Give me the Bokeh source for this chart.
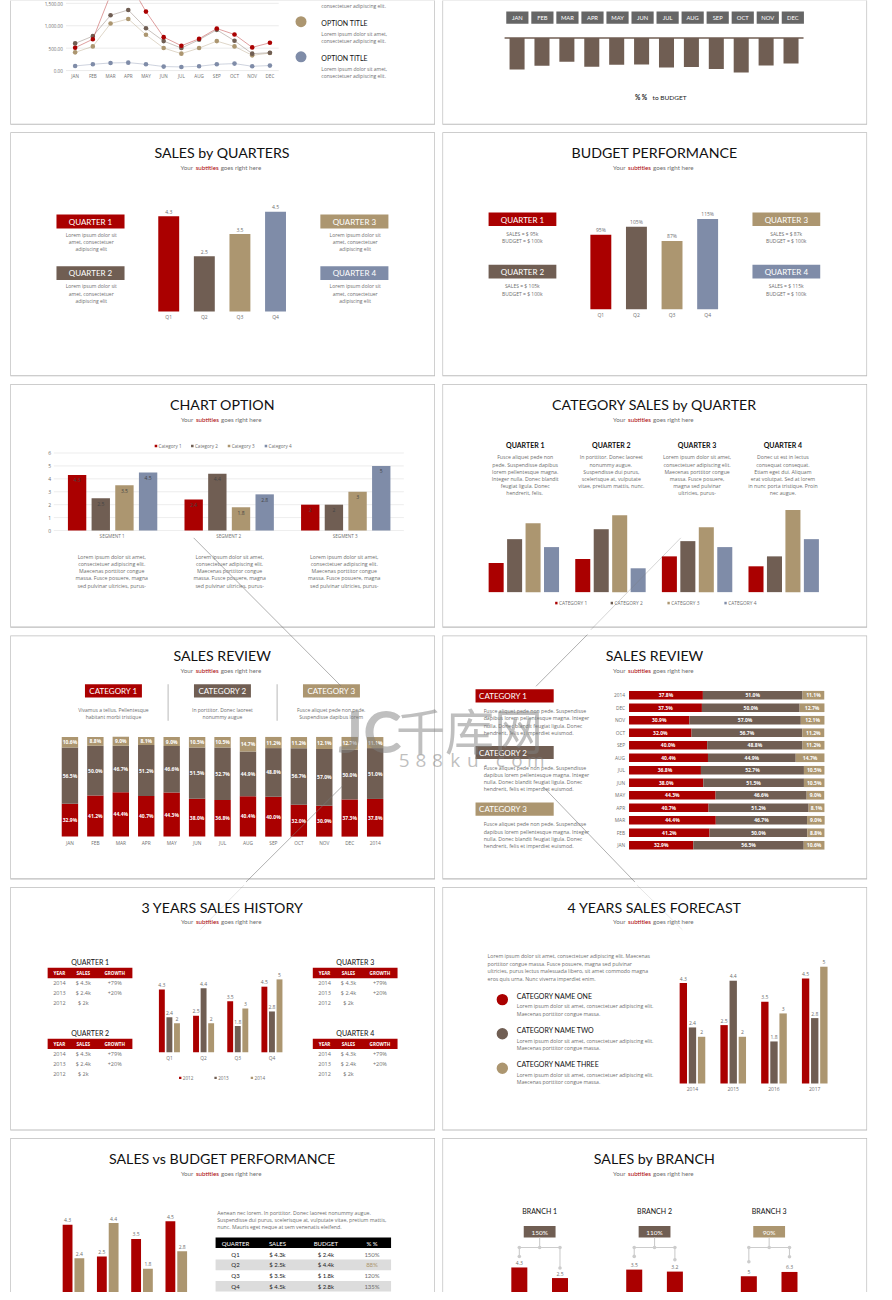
from bokeh.plotting import figure
from bokeh.models import Range1d
from bokeh.core.properties import value
from bokeh.embed import file_html
from bokeh.resources import INLINE

# ---------- data ----------
MONTHS = ["JAN","FEB","MAR","APR","MAY","JUN","JUL","AUG","SEP","OCT","NOV","DEC"]
line_red   = [510,700,1700,2000,1315,746,554,709,938,805,517,620]
line_brown = [606,768,1233,1352,945,657,502,687,908,665,377,399]
line_tan   = [406,539,1049,1152,798,502,377,502,657,539,340,391]
line_blue  = [103,140,170,177,140,89,81,96,140,155,96,111]
line_ticks = [0,500,1000,1500]
line_tick_labels = ["0.00","500.00","1,000.00","1,500.00"]
budget_pct = [95,84,72,87,81,80,89,88,94,104,83,77]
QS = ["Q1","Q2","Q3","Q4"]
sales_q = [4.3,2.5,3.5,4.5]
budget_q = [95,105,87,115]
budget_q_labels = ["95%","105%","87%","115%"]
seg_names = ["SEGMENT 1","SEGMENT 2","SEGMENT 3"]
seg_vals = [[4.3,2.4,2],[2.5,4.4,2],[3.5,1.8,3],[4.5,2.8,5]]
cat_q_vals = [[2.2,2.5,2.7,1.95],[4.0,4.75,3.85,2.7],[5.2,5.8,4.9,6.2],[3.4,1.8,3.4,4.0]]
stack_labels = MONTHS + ["2014"]
stack_a = [32.9,41.2,44.4,40.7,44.3,38.0,36.8,40.4,40.0,32.0,30.9,37.3,37.8]
stack_b = [56.5,50.0,46.7,51.2,46.6,51.5,52.7,44.9,48.8,56.7,57.0,50.0,51.0]
stack_c = [10.6,8.8,9.0,8.1,9.0,10.5,10.5,14.7,11.2,11.2,12.1,12.7,11.1]
hist_2012 = [4.3,2.5,3.5,4.5]
hist_2013 = [2.4,4.4,1.8,2.8]
hist_2014 = [2,2,3,5]
fc_years = ["2014","2015","2016","2017"]
hist_rows = [["2014","$ 4.3k","+79%"],["2013","$ 2.4k","+20%"],["2012","$ 2k",""]]
perf_rows = [["Q1","$ 4.3k","$ 2.4k","150%"],["Q2","$ 2.5k","$ 4.4k","88%"],
             ["Q3","$ 3.5k","$ 1.8k","120%"],["Q4","$ 4.5k","$ 2.8k","135%"]]
branch_vals = [[4.3,2.5],[3.5,3.2],[5,6.3]]
branch_pct = ["150%","110%","90%"]

RED, BROWN, TAN, BLUE = "#aa0000", "#705e53", "#ac9670", "#7f8ca8"
GRAY, DARK = "#6e6e6e", "#111111"
X0, X1, Y0, Y1 = 0, 892, 0, 1300
LAT, OPS = "Lato", "Open Sans"

p = figure(width=876, height=1292, x_range=Range1d(X0, X1), y_range=Range1d(Y1, Y0),
           x_axis_type=None, y_axis_type=None, toolbar_location=None,
           output_backend="svg", min_border=0, outline_line_color=None,
           background_fill_color="white", border_fill_color="white")
p.grid.visible = False

n = [0]
def xs(px0, ppu):
    n[0] += 1; name = f"x{n[0]}"
    p.extra_x_ranges[name] = Range1d((X0 - px0) / ppu, (X1 - px0) / ppu)
    return name
def ys(px0, ppu):
    n[0] += 1; name = f"y{n[0]}"
    p.extra_y_ranges[name] = Range1d((px0 - Y1) / ppu, (px0 - Y0) / ppu)
    return name

def T(x, y, s, size=5, color=GRAY, align="center", font=OPS, style="normal", alpha=1.0):
    p.text([x], [y], text=[s], text_font=value(font), text_font_size=f"{size}px", text_color=color,
           text_align=align, text_baseline="middle", text_font_style=style, text_alpha=alpha)
def R(x0, y0, x1, y1, c):
    p.quad(left=[x0], right=[x1], top=[y0], bottom=[y1], fill_color=c, line_color=None)
def lines(cx, y, step, rows, size=5, align="center", color=GRAY):
    for i, s in enumerate(rows):
        T(cx, y + i * step, s, size, color, align)
def title(cx, y, s):
    T(cx, y, s, 14.2, DARK, font=LAT)
    T(cx - 42.3, y + 14.8, "Your", 6.2, GRAY, "left", LAT)
    T(cx - 27, y + 14.8, "subtitles", 6.2, RED, "left", LAT)
    T(cx - 1.5, y + 14.8, "goes right here", 6.2, GRAY, "left", LAT)
def box(x0, y0, x1, y1, c, s, size=8, left=None):
    R(x0, y0, x1, y1, c)
    if left is None:
        T((x0 + x1) / 2, (y0 + y1) / 2 + .3, s, size, "white", font=LAT)
    else:
        T(left, (y0 + y1) / 2 + .3, s, size, "white", "left", LAT)
def bars(xn, yn, x, v, w, c):
    p.vbar(x=x, top=v, bottom=0, width=w, fill_color=c, line_color=None, x_range_name=xn, y_range_name=yn)
def vlabels(xn, yn, x, v, labels=None, off=-4.5, color=GRAY, size=5):
    labels = labels or [f"{a:g}" for a in v]
    p.text(x=x, y=v, text=labels, y_offset=off, text_font=value(OPS), text_font_size=f"{size}px", text_color=color,
           text_align="center", text_baseline="middle", x_range_name=xn, y_range_name=yn)
def cats(xn, x, y, labels, size=5):
    p.text(x=x, y=[y] * len(x), text=labels, text_font=value(OPS), text_font_size=f"{size}px", text_color=GRAY,
           text_align="center", text_baseline="middle", x_range_name=xn)

# ---------- cards ----------
for (x0, x1) in [(10.7, 441.7), (450.7, 881.7)]:
    for (y0, y1) in [(-5, 124), (133.3, 377), (386.7, 630), (639.7, 883.3), (892.7, 1136), (1145.3, 1310)]:
        R(x0 - .7, y0 - .7, x1 + .7, y1 + 1.1, "#bcbcbc")
        R(x0, y0, x1, y1, "white")

# ---------- panel 1: line chart ----------
xn = xs(76, 18.03); yn = ys(70.5, 22.55 / 500)
p.segment(x0=[66.7] * 4, x1=[283.3] * 4, y0=line_ticks, y1=line_ticks, line_color="#e6e6e6", line_width=.8, y_range_name=yn)
p.text(x=[63.5] * 4, y=line_ticks, text=line_tick_labels, text_font=value(OPS), text_font_size="4.6px", text_color=GRAY,
       text_align="right", text_baseline="middle", y_offset=.4, y_range_name=yn)
idx = list(range(12))
for ser, c in [(line_blue, BLUE), (line_tan, TAN), (line_brown, BROWN), (line_red, RED)]:
    p.line(idx, ser, line_color=c, line_width=.7, line_alpha=.55, x_range_name=xn, y_range_name=yn)
    p.scatter(idx, ser, size=4.6, fill_color=c, line_color=None, x_range_name=xn, y_range_name=yn)
cats(xn, idx, 76, MONTHS, 4.6)
T(326.7, 5.3, "consectetuer adipiscing elit.", 5, align="left")
for cy, c, ty in [(21.3, TAN, 22.3), (56.7, BLUE, 58)]:
    p.scatter([306], [cy], size=11, fill_color=c, line_color=None)
    T(326.7, ty, "OPTION TITLE", 7, DARK, "left", LAT)
    lines(326.7, ty + 11, 7.4, ["Lorem ipsum dolor sit amet,", "consectetuer adipiscing elit."], align="left")

# ---------- panel 2: budget % ----------
for i, m in enumerate(MONTHS):
    x = 526.3 + i * 25.5
    R(x - 11.3, 11, x + 11.3, 23.3, "#666666")
    T(x, 17.4, m, 5.8, "white", font=LAT)
xn = xs(526, 25.36); yn = ys(37.7, -1 / 3)
bars(xn, yn, idx, budget_pct, 15.3 / 25.36, BROWN)
R(513.3, 37, 817.7, 38.6, BROWN)
T(646, 98, "% %", 6.5, DARK, "left", LAT, "bold")
T(664, 98, "to BUDGET", 6.5, "#222222", "left", LAT)

# ---------- panel 3 ----------
title(225.7, 153.3, "SALES by QUARTERS")
BODY3 = ["Lorem ipsum dolor sit", "amet, consectetuer", "adipiscing elit"]
for x0, y0, c, s in [(57, 215.3, RED, "QUARTER 1"), (57, 267.3, BROWN, "QUARTER 2"),
                     (325.7, 215.3, TAN, "QUARTER 3"), (325.7, 267.3, BLUE, "QUARTER 4")]:
    box(x0, y0, x0 + 69.3, y0 + 14, c, s)
    lines(x0 + 35.4, y0 + 20.4, 7.3, BODY3)
xn = xs(171.3, 36.25); yn = ys(313, 22.3)
x4 = [0, 1, 2, 3]
for i, c in enumerate([RED, BROWN, TAN, BLUE]):
    bars(xn, yn, [i], [sales_q[i]], 21.3 / 36.25, c)
vlabels(xn, yn, x4, sales_q)
cats(xn, x4, 318, QS)

# ---------- panel 4 ----------
title(666, 153.3, "BUDGET PERFORMANCE")
BP = [["SALES =  $ 95k", "BUDGET =  $ 100k"], ["SALES =  $ 105k", "BUDGET =  $ 100k"],
      ["SALES =  $ 87k", "BUDGET =  $ 100k"], ["SALES =  $ 115k", "BUDGET =  $ 100k"]]
for (x0, y0, c, s), rows in zip([(497, 213.3, RED, "QUARTER 1"), (497, 266, BROWN, "QUARTER 2"),
                                 (765.7, 213.3, TAN, "QUARTER 3"), (765.7, 266, BLUE, "QUARTER 4")], BP):
    box(x0, y0, x0 + 69, y0 + 13.7, c, s)
    lines(x0 + 35, y0 + 21.2, 7.7, rows)
xn = xs(611.3, 36.25); yn = ys(310.7, .79)
for i, c in enumerate([RED, BROWN, TAN, BLUE]):
    bars(xn, yn, [i], [budget_q[i]], 21.3 / 36.25, c)
vlabels(xn, yn, x4, budget_q, budget_q_labels)
cats(xn, x4, 316.3, QS)

# ---------- panel 5 ----------
title(226, 406.3, "CHART OPTION")
for sx, s, c in [(158.3, "Category 1", RED), (195.3, "Category 2", BROWN), (232.7, "Category 3", TAN), (270.3, "Category 4", BLUE)]:
    R(sx - 1.3, 447, sx + 1.3, 449.6, c)
    T(sx + 2.7, 448.3, s, 4.6, align="left")
yn = ys(533.3, 13); xn = xs(78, 118.7)
tk = [0, 1, 2, 3, 4, 5, 6]
p.segment(x0=[54.3] * 7, x1=[410.7] * 7, y0=tk, y1=tk, line_color="#e8e8e8", line_width=.8, y_range_name=yn)
p.text(x=[51.5] * 7, y=tk, text=[str(t) for t in tk], text_font=value(OPS), text_font_size="5px", text_color=GRAY,
       text_align="right", text_baseline="middle", y_range_name=yn)
d = 24.1 / 118.7
for s, (vals, c) in enumerate(zip(seg_vals, [RED, BROWN, TAN, BLUE])):
    gx = [g + s * d for g in range(3)]
    bars(xn, yn, gx, vals, 18.7 / 118.7, c)
    vlabels(xn, yn, gx, vals, off=5.3, color="#444444")
cats(xn, [0.3, 1.3, 2.3], 539.3, seg_names, 4.6)
B5 = ["Lorem ipsum dolor sit amet,", "consectetuer adipiscing elit.", "Maecenas porttitor congue",
      "massa. Fusce posuere, magna", "sed pulvinar ultricies, purus-"]
for cx in (113.3, 233.3, 350):
    lines(cx, 559.7, 7.25, B5, 5.2)

# ---------- panel 6 ----------
title(666, 406.3, "CATEGORY SALES by QUARTER")
B6 = [["Fusce aliquet pede non", "pede. Suspendisse dapibus", "lorem pellentesque magna.", "Integer nulla. Donec blandit", "feugiat ligula. Donec", "hendrerit,  felis."],
      ["In porttitor. Donec laoreet", "nonummy  augue.", "Suspendisse dui purus,", "scelerisque at, vulputate", "vitae, pretium mattis, nunc."],
      ["Lorem ipsum dolor sit amet,", "consectetuer adipiscing elit.", "Maecenas porttitor congue", "massa. Fusce posuere,", "magna sed pulvinar", "ultricies, purus-"],
      ["Donec ut est in lectus", "consequat consequat.", "Etiam eget dui. Aliquam", "erat volutpat. Sed at lorem", "in nunc porta tristique. Proin", "nec augue."]]
for i, cx in enumerate((534.3, 622, 709.3, 796.7)):
    T(cx, 447.7, f"QUARTER {i + 1}", 7, DARK, font=LAT, style="bold")
    lines(cx, 459.7, 7.2, B6[i], 5.2)
yn = ys(595.3, 13.33); xn = xs(504.7, 88.2)
d = 18.8 / 88.2
for s, (vals, c) in enumerate(zip(cat_q_vals, [RED, BROWN, TAN, BLUE])):
    bars(xn, yn, [g + s * d for g in range(4)], vals, 15.3 / 88.2, c)
for sx, s, c in [(566, "CATEGORY 1", RED), (622.5, "CATEGORY 2", BROWN), (680.3, "CATEGORY 3", TAN), (738.3, "CATEGORY 4", BLUE)]:
    R(sx - 1.2, 605, sx + 1.2, 607.6, c)
    T(sx + 2.7, 606.3, s, 4.8, align="left")

# ---------- panel 7 ----------
title(225.7, 659, "SALES REVIEW")
for x0, c, s in [(86, RED, "CATEGORY 1"), (197, BROWN, "CATEGORY 2"), (308, TAN, "CATEGORY 3")]:
    box(x0, 688, x0 + 58, 701.3, c, s)
for x in (170.7, 281.7):
    R(x - .7, 688, x + .7, 724.7, "#cccccc")
lines(115, 714, 7.3, ["Vivamus a tellus. Pellentesque", "habitant morbi tristique"])
lines(226, 714, 7.3, ["In porttitor. Donec laoreet", "nonummy augue"])
lines(336.7, 714, 7.3, ["Fusce aliquet pede non pede.", "Suspendisse dapibus lorem"])
xn = xs(70.7, 25.9); yn = ys(841.3, 1.003)
ix = list(range(13))
tops_a = stack_a
tops_b = [a + b for a, b in zip(stack_a, stack_b)]
tops_c = [a + b + c for a, b, c in zip(stack_a, stack_b, stack_c)]
w = 16.7 / 25.9
p.vbar(x=ix, bottom=0, top=tops_a, width=w, fill_color=RED, line_color=None, x_range_name=xn, y_range_name=yn)
p.vbar(x=ix, bottom=tops_a, top=tops_b, width=w, fill_color=BROWN, line_color=None, x_range_name=xn, y_range_name=yn)
p.vbar(x=ix, bottom=tops_b, top=tops_c, width=w, fill_color=TAN, line_color=None, x_range_name=xn, y_range_name=yn)
for lo, hi, vals in [([0] * 13, tops_a, stack_a), (tops_a, tops_b, stack_b), (tops_b, tops_c, stack_c)]:
    p.text(x=ix, y=[(a + b) / 2 for a, b in zip(lo, hi)], text=[f"{v:.1f}%" for v in vals], text_font=value(OPS),
           text_font_size="5px", text_font_style="bold", text_color="white", text_align="center", text_baseline="middle",
           x_range_name=xn, y_range_name=yn)
cats(xn, ix, 848, stack_labels, 4.8)

# ---------- panel 8 ----------
title(666, 659, "SALES REVIEW")
B8 = ["Fusce aliquet pede non pede. Suspendisse", "dapibus lorem pellentesque magna. Integer",
      "nulla. Donec blandit feugiat ligula. Donec", "hendrerit, felis et imperdiet euismod."]
for y0, c, s in [(693, RED, "CATEGORY 1"), (750, BROWN, "CATEGORY 2"), (807, TAN, "CATEGORY 3")]:
    box(483.7, y0, 563.3, y0 + 13.3, c, s, left=487.3)
    lines(492, y0 + 22, 7.25, B8, 5.2, "left")
xn = xs(640, 1.99); yn = ys(850, 12.58)
r = list(range(13))
h = 8.7 / 12.58
p.hbar(y=r, left=0, right=tops_a, height=h, fill_color=RED, line_color=None, x_range_name=xn, y_range_name=yn)
p.hbar(y=r, left=tops_a, right=tops_b, height=h, fill_color=BROWN, line_color=None, x_range_name=xn, y_range_name=yn)
p.hbar(y=r, left=tops_b, right=tops_c, height=h, fill_color=TAN, line_color=None, x_range_name=xn, y_range_name=yn)
for lo, hi, vals in [([0] * 13, tops_a, stack_a), (tops_a, tops_b, stack_b), (tops_b, tops_c, stack_c)]:
    p.text(x=[(a + b) / 2 for a, b in zip(lo, hi)], y=r, text=[f"{v:.1f}%" for v in vals], text_font=value(OPS),
           text_font_size="5px", text_font_style="bold", text_color="white", text_align="center", text_baseline="middle",
           x_range_name=xn, y_range_name=yn)
p.text(x=[636] * 13, y=r, text=stack_labels, text_font=value(OPS), text_font_size="4.8px", text_color=GRAY,
       text_align="right", text_baseline="middle", y_range_name=yn)

# ---------- panel 9 ----------
title(226, 912.3, "3 YEARS SALES HISTORY")
for x0, y0, s in [(48, 973.3, "QUARTER 1"), (48, 1044.7, "QUARTER 2"), (318, 973.3, "QUARTER 3"), (318, 1044.7, "QUARTER 4")]:
    T(x0 + 43.3, y0 - 6.3, s, 7, DARK, font=LAT)
    R(x0, y0, x0 + 86.3, y0 + 10.4, RED)
    cols = [x0 + 12, x0 + 36.3, x0 + 68.3]
    for cx, hd in zip(cols, ["YEAR", "SALES", "GROWTH"]):
        T(cx, y0 + 4.9, hd, 4.6, "white", style="bold")
    for k, row in enumerate(hist_rows):
        for cx, cell in zip(cols, row):
            T(cx, y0 + 15 + k * 10, cell, 5.5)
xn = xs(164.3, 34.8); yn = ys(1058.3, 14.67)
for s, (vals, c) in enumerate(zip([hist_2012, hist_2013, hist_2014], [RED, BROWN, TAN])):
    gx = [g + s * 7.7 / 34.8 for g in range(4)]
    bars(xn, yn, gx, vals, 6 / 34.8, c)
    vlabels(xn, yn, gx, vals)
cats(xn, [g + 7.7 / 34.8 for g in range(4)], 1063.7, QS, 4.8)
for sx, s, c in [(183, "2012", RED), (219, "2013", BROWN), (256, "2014", TAN)]:
    R(sx - 1.2, 1082.8, sx + 1.2, 1085.2, c)
    T(sx + 2.7, 1084, s, 4.6, align="left")

# ---------- panel 10 ----------
title(666, 912.3, "4 YEARS SALES FORECAST")
lines(496, 961.7, 7.65, ["Lorem ipsum dolor sit amet, consectetuer adipiscing elit. Maecenas",
      "porttitor congue massa. Fusce posuere, magna sed pulvinar",
      "ultricies, purus lectus malesuada libero, sit amet commodo magna",
      "eros quis urna. Nunc viverra imperdiet enim."], 5.2, "left")
for cy, ty, c, s in [(1005.3, 1001.7, RED, "CATEGORY NAME ONE"), (1039.7, 1036, BROWN, "CATEGORY NAME TWO"), (1074.3, 1070.3, TAN, "CATEGORY NAME THREE")]:
    p.scatter([511], [cy], size=11.4, fill_color=c, line_color=None)
    T(525.7, ty, s, 7, DARK, "left", LAT)
    lines(525.7, ty + 10.5, 7.6, ["Lorem ipsum dolor sit amet, consectetuer adipiscing elit.", "Maecenas porttitor congue massa."], 5.2, "left")
xn = xs(695.3, 41.5); yn = ys(1089.7, 23.5)
for s, (vals, c) in enumerate(zip([hist_2012, hist_2013, hist_2014], [RED, BROWN, TAN])):
    gx = [g + s * 9.3 / 41.5 for g in range(4)]
    bars(xn, yn, gx, vals, 7.5 / 41.5, c)
    vlabels(xn, yn, gx, vals)
cats(xn, [g + 9.3 / 41.5 for g in range(4)], 1095.3, fc_years, 5)

# ---------- panel 11 ----------
title(226, 1165.3, "SALES vs BUDGET PERFORMANCE")
xn = xs(68.3, 34.9); yn = ys(1308, 17.7)
for s, (vals, c) in enumerate(zip([hist_2012, hist_2013], [RED, TAN])):
    gx = [g + s * 12 / 34.9 for g in range(4)]
    bars(xn, yn, gx, vals, 10 / 34.9, c)
    vlabels(xn, yn, gx, vals)
lines(220.7, 1219.7, 7.4, ["Aenean nec lorem. In porttitor. Donec laoreet nonummy augue.",
      "Suspendisse dui purus, scelerisque at, vulputate vitae, pretium mattis,",
      "nunc. Mauris eget neque at sem venenatis eleifend."], 5.2, "left")
R(219, 1244.7, 397.7, 1255.3, "#000000")
tc = [239.3, 282, 331.3, 378.3]
for cx, hd in zip(tc, ["QUARTER", "SALES", "BUDGET", "% %"]):
    T(cx, 1250.3, hd, 6, "white", font=LAT)
for k, row in enumerate(perf_rows):
    y = 1261.3 + k * 10.8
    if k % 2:
        R(219, y - 5.2, 397.7, y + 5.4, "#dcdcdc")
    for j, (cx, cell) in enumerate(zip(tc, row)):
        col = "#222222" if j < 3 else (TAN if cell == "88%" else GRAY)
        T(cx, y, cell, 6, col, font=LAT)

# ---------- panel 12 ----------
title(666, 1165.3, "SALES by BRANCH")
stem_ends = [(1263.7, 1275.3), (1263.7, 1267), (1269, 1264)]
for b, (cx, c) in enumerate(zip((549, 666, 782.7), [BROWN, BROWN, TAN])):
    T(cx, 1218.3, f"BRANCH {b + 1}", 7, DARK, font=LAT)
    box(cx - 16.2, 1233, cx + 16.2, 1244.7, c, branch_pct[b], 6.5)
    p.segment(x0=[cx, cx - 20.7, cx - 20.7, cx + 20.7], x1=[cx, cx + 20.7, cx - 20.7, cx + 20.7],
              y0=[1244.7, 1254.7, 1254.7, 1254.7], y1=[1254.7, 1254.7, stem_ends[b][0], stem_ends[b][1]],
              line_color="#cccccc", line_width=1.1)
    p.scatter([cx - 20.7, cx, cx + 20.7, cx - 20.7, cx + 20.7],
              [1254.7, 1254.7, 1254.7, stem_ends[b][0], stem_ends[b][1]], size=3.6, fill_color="#cccccc", line_color=None)
    xb = xs(cx - 20.7, 41.4)
    unit = [5.93, 6.67, 3.33][b]
    yb = ys(1300.3, unit)
    bars(xb, yb, [0, 1], branch_vals[b], 16.3 / 41.4, RED)
    vlabels(xb, yb, [0, 1], branch_vals[b])

# ---------- watermark ----------
for (x0, y0, x1, y1, a) in [(196.7, 540.7, 346.7, 689.7, .65), (692.7, 540.7, 601, 633.3, .35), (597.7, 638, 545.3, 690, .65),
                            (348.3, 790.3, 250, 887, .65), (248, 890, 203.3, 935, .2), (552.7, 791.3, 646, 887, .65), (648, 890, 694.3, 935, .2)]:
    p.line([x0, x1], [y0, y1], line_color="#777777", line_width=.9, line_alpha=a)
T(344, 735, "JC", 58, "#808080", "left", LAT, "bold", .5)
T(477.5, 733, "千库网", 49, "#808080", font="Noto Sans CJK SC", alpha=.5)
for cx, ch in zip((411, 428, 445, 463, 481, 494, 509, 526, 545), "588ku.com"):
    T(cx, 764.7, ch, 19, "#808080", alpha=.5)

open("out.html", "w").write(file_html(p, INLINE))
